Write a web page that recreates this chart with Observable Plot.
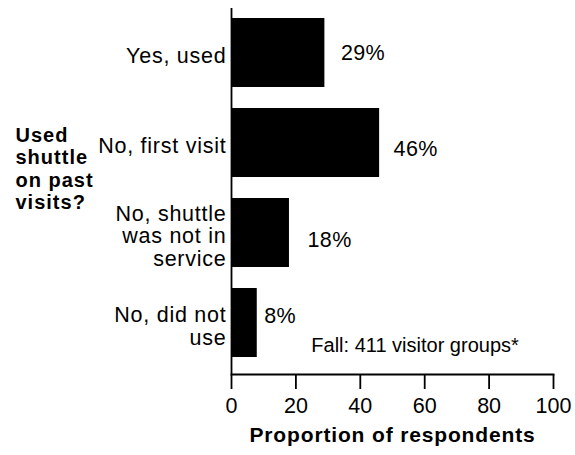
<!DOCTYPE html>
<html>
<head>
<meta charset="utf-8">
<script src="https://cdn.jsdelivr.net/npm/d3@7"></script>
<script src="https://cdn.jsdelivr.net/npm/@observablehq/plot@0.6"></script>
<style>
  html, body { margin: 0; padding: 0; background: white; }
  [aria-description="category-labels"] { letter-spacing: 0.75px; }
  [aria-description="y-title"] { letter-spacing: 1px; }
  [aria-description="x-title"] { letter-spacing: 0.85px; }
  [aria-description="value-labels"] { letter-spacing: 0.4px; }
</style>
</head>
<body>
<div id="chart"></div>
<script>
const categories = ["Yes, used", "No, first visit", "No, shuttle was not in service", "No, did not use"];
const categoryLabels = ["Yes, used", "No, first visit", "No, shuttle\nwas not in\nservice", "No, did not\nuse"];
const percents = [29, 46, 18, 8];
const xTicks = [0, 20, 40, 60, 80, 100];
const yTitle = "Used\nshuttle\non past\nvisits?";
const xTitle = "Proportion of respondents";
const note = "Fall: 411 visitor groups*";

// label nudges (styling only)
const valueLabelDx = [16, 14, 18, 7];
const valueLabelDy = [0.6, 5.8, 7.6, -6.4];

const data = categories.map((c, i) => ({category: c, label: categoryLabels[i], value: percents[i]}));

const chart = Plot.plot({
  width: 575,
  height: 455,
  marginLeft: 231,
  marginRight: 22,
  marginTop: 8,
  marginBottom: 81,
  style: {fontFamily: "'Liberation Sans', Arial, sans-serif", background: "white", color: "black"},
  x: {domain: [0, 100], ticks: xTicks},
  y: {domain: categories, range: [8, 368], paddingInner: 0.233, paddingOuter: 0.115, axis: null},
  marks: [
    Plot.barX(data, {x: "value", y: "category", fill: "black"}),
    Plot.ruleX([0], {stroke: "black", strokeWidth: 1.8}),
    Plot.frame({anchor: "bottom", stroke: "black", strokeWidth: 1.8}),
    Plot.axisX({ticks: xTicks, tickSize: 15, tickPadding: 8, fontSize: 21.5, label: null, tickFormat: d => d, strokeWidth: 1.8}),
    ...data.map((d, i) => Plot.text([d], {x: "value", y: "category", text: d => d.value + "%", dx: valueLabelDx[i], dy: valueLabelDy[i], textAnchor: "start", fontSize: 21.5, ariaDescription: "value-labels"})),
    Plot.text(data, {x: d => 0, y: "category", text: "label", dx: -5, dy: 3, textAnchor: "end", fontSize: 21.5, lineHeight: 1.06, ariaDescription: "category-labels"}),
    Plot.text([yTitle], {text: d => d, frameAnchor: "left", dx: -216, dy: -23, textAnchor: "start", fontWeight: "bold", fontSize: 20, lineHeight: 1.12, ariaDescription: "y-title"}),
    Plot.text([xTitle], {text: d => d, x: d => 50, frameAnchor: "bottom", dy: 67, fontWeight: "bold", fontSize: 21, ariaDescription: "x-title"}),
    Plot.text([note], {text: d => d, x: d => 57, y: d => categories[3], dy: 23, fontSize: 20})
  ]
});
document.getElementById("chart").appendChild(chart);
</script>
</body>
</html>
